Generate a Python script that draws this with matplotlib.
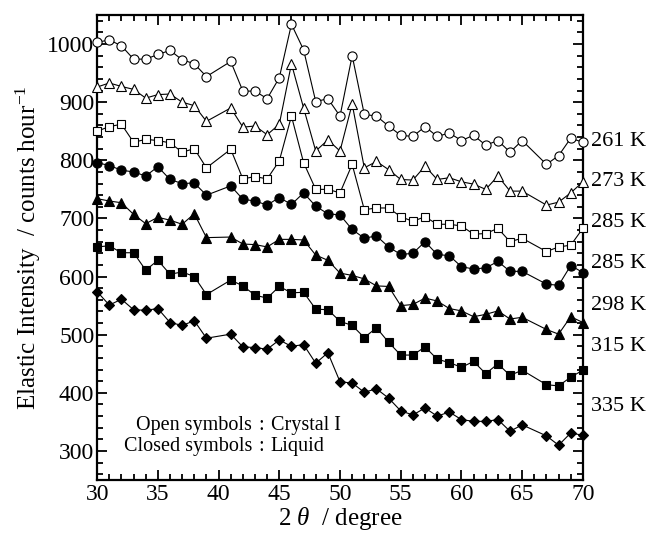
import matplotlib
matplotlib.use("Agg")
import matplotlib.pyplot as plt
from matplotlib.ticker import MultipleLocator

plt.rcParams['font.family'] = ['Liberation Serif', 'DejaVu Serif']
plt.rcParams['mathtext.fontset'] = 'custom'
plt.rcParams['mathtext.rm'] = 'Liberation Serif'
plt.rcParams['mathtext.it'] = 'Liberation Serif:italic'

# scattering angle, 1 degree steps (40 and 66 not measured)
two_theta = list(range(30, 40)) + list(range(41, 66)) + list(range(67, 71))

i_261 = [1003, 1007, 997, 974, 974, 982, 989, 973, 966, 944,
         970, 919, 919, 906, 942, 1034, 990, 901, 906, 876, 980, 879, 876,
         859, 843, 841, 858, 841, 847, 834, 843, 826, 834, 814, 834,
         793, 808, 838, 831]
i_273 = [926, 933, 927, 922, 907, 913, 914, 900, 894, 867,
         890, 857, 859, 844, 862, 966, 890, 816, 835, 816, 897, 787, 798,
         784, 767, 766, 790, 767, 770, 763, 759, 750, 773, 747, 747,
         723, 728, 744, 763]
i_285c = [850, 858, 862, 831, 836, 834, 830, 814, 820, 787,
          819, 768, 772, 768, 799, 876, 796, 750, 750, 744, 793, 715, 718,
          718, 703, 695, 703, 690, 690, 687, 673, 674, 683, 660, 666,
          643, 651, 654, 683]
i_285l = [796, 791, 783, 780, 773, 789, 767, 760, 761, 740,
          756, 733, 730, 723, 736, 724, 744, 721, 708, 706, 681, 666, 670,
          651, 638, 640, 660, 638, 636, 617, 613, 615, 626, 609, 609,
          587, 585, 619, 607]
i_298 = [734, 730, 727, 707, 691, 702, 697, 690, 708, 667,
         668, 656, 655, 651, 664, 664, 663, 637, 628, 606, 602, 596, 584,
         583, 550, 552, 563, 558, 545, 541, 531, 535, 541, 527, 530,
         509, 501, 531, 521]
i_315 = [651, 653, 641, 641, 611, 628, 604, 608, 600, 569,
         594, 584, 568, 563, 583, 572, 573, 544, 543, 523, 516, 495, 512,
         487, 465, 465, 479, 458, 452, 444, 454, 433, 450, 430, 439,
         414, 412, 427, 439]
i_335 = [574, 551, 561, 543, 542, 545, 521, 516, 524, 494,
         501, 479, 478, 475, 491, 480, 483, 451, 469, 419, 417, 401, 407,
         391, 369, 362, 374, 360, 367, 354, 351, 351, 354, 334, 345,
         326, 310, 331, 327]

temps = ['261 K', '273 K', '285 K', '285 K', '298 K', '315 K', '335 K']
label_y = [832, 763, 693, 623, 551, 480, 377]

series = [
    (i_261, 'o', 'white', 6.6),
    (i_273, '^', 'white', 7.2),
    (i_285c, 's', 'white', 6.2),
    (i_285l, 'o', 'black', 6.6),
    (i_298, '^', 'black', 7.2),
    (i_315, 's', 'black', 6.2),
    (i_335, 'D', 'black', 5.2),
]

fig = plt.figure(figsize=(6.52, 5.34), dpi=100)
ax = fig.add_axes([0.149, 0.101, 0.745, 0.871])

for vals, m, fc, ms in series:
    ax.plot(two_theta, vals, color='black', lw=0.8, marker=m, ms=ms,
            mfc=fc, mec='black', mew=0.8, clip_on=False, zorder=3)

ax.set_xlim(30, 70)
ax.set_ylim(250, 1050)
ax.xaxis.set_major_locator(MultipleLocator(5))
ax.xaxis.set_minor_locator(MultipleLocator(1))
ax.yaxis.set_major_locator(MultipleLocator(100))
ax.yaxis.set_minor_locator(MultipleLocator(20))
ax.set_yticks(range(300, 1001, 100))
ax.tick_params(which='both', direction='in', top=True, right=True,
               labelsize=17, width=1.3)
ax.tick_params(which='major', length=7, pad=3)
ax.tick_params(which='minor', length=4)
ax.tick_params(axis='y', which='major', pad=2)
for sp in ax.spines.values():
    sp.set_linewidth(1.6)

ax.set_xlabel(r'2 $\theta$  / degree', fontsize=18, labelpad=0)
ax.set_ylabel(r'Elastic Intensity  / counts hour$^{-1}$', fontsize=18, labelpad=3)

for t, y in zip(temps, label_y):
    ax.text(70.7, y, t, fontsize=16, va='center', ha='left', clip_on=False)

ax.text(42.75, 343, 'Open symbols', fontsize=14.5, ha='right', va='center')
ax.text(42.75, 307, 'Closed symbols', fontsize=14.5, ha='right', va='center')
ax.text(43.5, 343, ':', fontsize=14.5, ha='center', va='center')
ax.text(43.5, 307, ':', fontsize=14.5, ha='center', va='center')
ax.text(44.3, 343, 'Crystal I', fontsize=14.5, ha='left', va='center')
ax.text(44.3, 307, 'Liquid', fontsize=14.5, ha='left', va='center')

fig.savefig('out.png', dpi=100)
